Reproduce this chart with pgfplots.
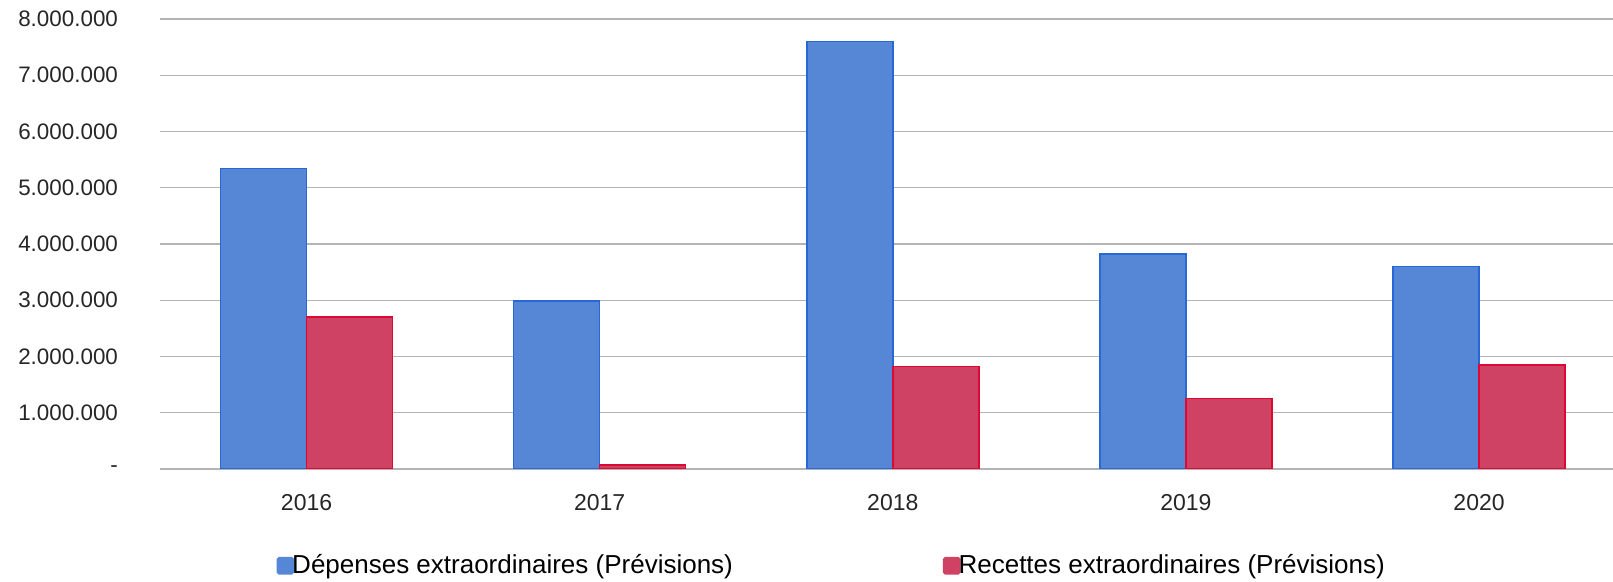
\documentclass[border=0pt]{standalone}
\usepackage{pgfplots}
\pgfplotsset{compat=1.18}
\usepackage{fontspec}
\setmainfont{Liberation Sans}
\definecolor{bluefill}{RGB}{86,134,214}
\definecolor{blueedge}{RGB}{40,104,214}
\definecolor{redfill}{RGB}{207,66,100}
\definecolor{rededge}{RGB}{220,10,50}
\definecolor{gridgray}{RGB}{180,180,180}
\begin{document}
\begin{tikzpicture}
\path[use as bounding box] (-80pt,-56.5pt) rectangle (726.5pt,234.5pt);
\begin{axis}[
  at={(0,0)}, anchor=south west,
  scale only axis, width=726.5pt, height=225pt,
  xmin=-0.5, xmax=4.457, ymin=0, ymax=8000000,
  ybar=0pt, bar width=43pt,
  axis line style={draw=none},
  xtick={0,1,2,3,4}, xticklabels={2016,2017,2018,2019,2020},
  ytick={0,1000000,2000000,3000000,4000000,5000000,6000000,7000000,8000000},
  yticklabels={-,1.000.000,2.000.000,3.000.000,4.000.000,5.000.000,6.000.000,7.000.000,8.000.000},
  major tick length=0pt,
  ymajorgrids, grid style={gridgray, line width=0.6pt},
  xticklabel style={font=\fontsize{11.5}{14}\selectfont, text=black!85, anchor=north, yshift=-9pt},
  yticklabel style={font=\fontsize{11.2}{13}\selectfont, text=black!85, anchor=east, xshift=-17.5pt},
  scaled y ticks=false,
  legend style={draw=none, fill=none, at={(0.463,-0.215)}, anchor=center,
    legend columns=2, font=\fontsize{13}{15}\selectfont,
    /tikz/every even column/.append style={column sep=103pt},
    /tikz/every odd column/.append style={column sep=-3pt},
    inner sep=0pt},
  legend cell align=left,
]
\addplot[fill=bluefill, draw=blueedge, line width=0.8pt, area legend,
  legend image code/.code={\fill[bluefill, rounded corners=0.8pt] (0pt,-4pt) rectangle (8pt,4pt);}]
  coordinates {(0,5340000) (1,2990000) (2,7600000) (3,3820000) (4,3600000)};
\addplot[fill=redfill, draw=rededge, line width=0.8pt, area legend,
  legend image code/.code={\fill[redfill, rounded corners=0.8pt] (0pt,-4pt) rectangle (8pt,4pt);}]
  coordinates {(0,2700000) (1,70000) (2,1820000) (3,1250000) (4,1850000)};
\legend{D\'epenses extraordinaires (Pr\'evisions), Recettes extraordinaires (Pr\'evisions)}
\end{axis}
\end{tikzpicture}
\end{document}
